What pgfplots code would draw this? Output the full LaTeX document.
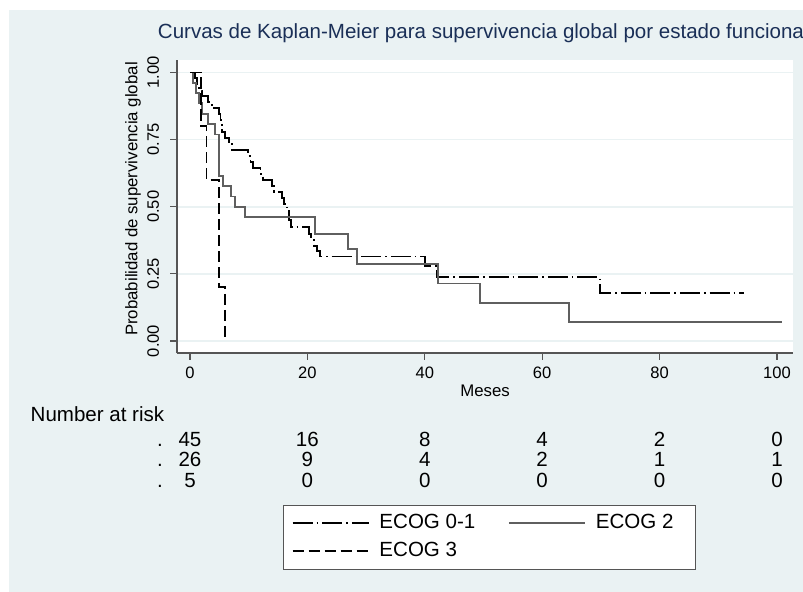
\documentclass[border=0pt]{standalone}
\usepackage{pgfplots}
\pgfplotsset{compat=1.18}
\usepackage{fontspec}
\setmainfont{Liberation Sans}
\definecolor{ltbg}{RGB}{234,242,243}
\definecolor{titlecol}{RGB}{26,47,87}
\definecolor{axcol}{RGB}{85,85,85}
\definecolor{ecogtwo}{RGB}{95,95,95}

\begin{document}
\begin{tikzpicture}
\useasboundingbox (0pt,0pt) rectangle (602.25pt,-444pt);
\begin{scope}[x=0.75pt,y=-0.75pt]
\fill[white] (0,0) rectangle (803,592);
\fill[ltbg] (9,10) rectangle (803,592);
\fill[white] (177,60) rectangle (793,353);
\end{scope}
\begin{axis}[
  at={(132.75pt,-264.75pt)}, anchor=south west,
  scale only axis, width=462pt, height=219.75pt,
  xmin=-2.215, xmax=102.73, ymin=-0.0446, ymax=1.0465,
  axis x line*=bottom, axis y line*=left,
  axis line style={axcol, line width=0.9pt, -},
  xtick={0,20,40,60,80,100}, ytick={0,0.25,0.5,0.75,1},
  tick align=outside, major tick length=5pt,
  tick style={axcol, line width=0.9pt},
  ymajorgrids, grid style={ltbg, line width=1.2pt},
  ticklabel style={font=\fontsize{12.4}{14}\selectfont},
  xticklabel shift=2pt, yticklabel shift=5pt,
  /pgf/number format/assume math mode=true,
  yticklabel style={rotate=90, anchor=south, /pgf/number format/fixed, /pgf/number format/fixed zerofill, /pgf/number format/precision=2},
  legend style={at={(axis description cs:0.1721,-0.5188)}, anchor=north west,
    draw=axcol, fill=white, font=\fontsize{15.4}{18}\selectfont,
    inner xsep=6.25pt, inner ysep=5pt,
    nodes={inner sep=1.5pt, text height=11pt, text depth=3pt},
    /tikz/every odd column/.append style={column sep=6pt},
    /tikz/every even column/.append style={column sep=23pt},
    row sep=4pt},
  legend columns=2, legend cell align=left,
  legend image code/.code={\draw[#1] (0pt,0pt) -- (57pt,0pt);},
]
\addplot[const plot, black, line width=1.4pt, dash pattern=on 15pt off 3pt on 1.2pt off 3pt] coordinates {
(0,1) (0.8,0.978) (1.2,0.956) (1.6,0.933) (2.0,0.911) (3.1,0.889) (3.7,0.867)
(5.0,0.844) (5.2,0.822) (5.4,0.800) (5.5,0.778) (6.0,0.756) (6.6,0.733) (7.1,0.711)
(9.9,0.689) (10.3,0.667) (10.7,0.644) (12.0,0.622) (12.5,0.600) (14.0,0.578)
(14.3,0.556) (15.6,0.533) (16.0,0.511) (16.5,0.489) (16.9,0.450) (17.2,0.426)
(20.2,0.400) (20.6,0.378) (21.1,0.355) (21.6,0.335) (22.2,0.315) (40.0,0.280)
(42.0,0.238) (69.8,0.179) (94.3,0.179)
};
\addlegendentry{ECOG 0-1}
\addplot[const plot, ecogtwo, line width=1.4pt] coordinates {
(0,1) (0.5,0.962) (1.0,0.923) (1.5,0.885) (2.1,0.846) (3.1,0.808) (4.2,0.769)
(4.9,0.615) (5.6,0.577) (7.0,0.538) (7.6,0.500) (9.3,0.462) (21.3,0.400)
(26.9,0.343) (28.5,0.286) (42.3,0.214) (49.4,0.143) (64.6,0.071) (100.8,0.071)
};
\addlegendentry{\makebox[67pt][l]{ECOG 2}}
\addplot[const plot, black, line width=1.4pt, dash pattern=on 8.5pt off 3.5pt] coordinates {
(0,1) (1.9,0.8) (2.8,0.6) (5.0,0.2) (5.9,0)
};
\addlegendentry{ECOG 3}
\end{axis}
\begin{scope}[x=0.75pt,y=-0.75pt]
\node[titlecol, font=\fontsize{15.4}{18}\selectfont, anchor=west, inner sep=0pt] at (157,33) {\rlap{Curvas de Kaplan-Meier para supervivencia global por estado funcional}};
\node[font=\fontsize{12.6}{15}\selectfont] at (485,391) {Meses};
\node[rotate=90, font=\fontsize{12.6}{15}\selectfont] at (133,199) {Probabilidad de supervivencia global};
\begin{scope}[font=\fontsize{15.4}{18}\selectfont]
\node[anchor=base west] at (26,421) {Number at risk};
\foreach \y/\a/\b/\c/\d/\e/\f in {446/45/16/8/4/2/0, 466/26/9/4/2/1/1, 487/5/0/0/0/0/0} {
  \node[anchor=base] at (160,\y) {.};
  \node[anchor=base] at (190,\y) {\a};
  \node[anchor=base] at (307.4,\y) {\b};
  \node[anchor=base] at (424.8,\y) {\c};
  \node[anchor=base] at (542.2,\y) {\d};
  \node[anchor=base] at (659.6,\y) {\e};
  \node[anchor=base] at (777,\y) {\f};
}
\end{scope}
\end{scope}
\end{tikzpicture}
\end{document}
